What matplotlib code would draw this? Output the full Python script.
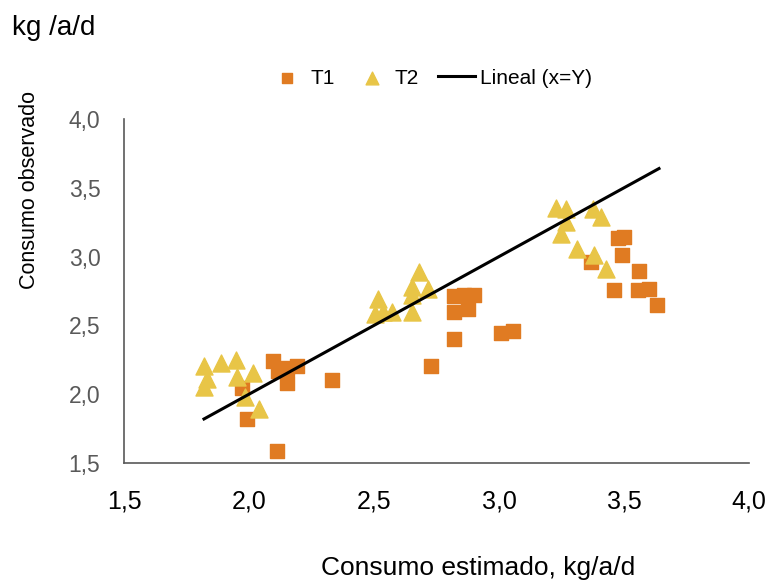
import matplotlib
matplotlib.use("Agg")
import matplotlib.pyplot as plt
from matplotlib.ticker import FuncFormatter

plt.rcParams['font.family'] = ['Liberation Sans Narrow', 'Liberation Sans', 'DejaVu Sans']

# T1 (cuadrados)
t1_x = [2.097, 2.117, 2.153, 2.193, 2.153, 1.974, 1.994, 2.113, 2.332,
        2.822, 2.861, 2.901, 2.822, 2.877, 2.822, 2.730, 3.009, 3.056,
        3.475, 3.498, 3.490, 3.367, 3.558, 3.459, 3.554, 3.598, 3.630]
t1_y = [2.241, 2.169, 2.190, 2.205, 2.081, 2.045, 1.820, 1.587, 2.100,
        2.714, 2.721, 2.721, 2.597, 2.619, 2.401, 2.205, 2.445, 2.459,
        3.135, 3.142, 3.012, 2.961, 2.895, 2.757, 2.757, 2.765, 2.648]

# T2 (triangulos)
t2_x = [1.822, 1.890, 1.950, 1.834, 1.822, 1.954, 2.018, 1.986, 2.041,
        2.515, 2.503, 2.535, 2.571, 2.682, 2.654, 2.654, 2.718, 2.654,
        3.228, 3.268, 3.375, 3.407, 3.268, 3.248, 3.311, 3.379, 3.427]
t2_y = [2.205, 2.227, 2.249, 2.110, 2.052, 2.125, 2.154, 1.980, 1.892,
        2.692, 2.583, 2.597, 2.597, 2.888, 2.779, 2.721, 2.765, 2.597,
        3.353, 3.346, 3.346, 3.288, 3.251, 3.164, 3.055, 3.012, 2.910]

# linea x = y
line_x = [1.82, 3.64]
line_y = [1.82, 3.64]

ticks = [1.5, 2.0, 2.5, 3.0, 3.5, 4.0]

fig = plt.figure(figsize=(7.66, 5.86), dpi=100)
ax = fig.add_axes([124 / 766, 1 - 463 / 586, (749 - 124) / 766, (463 - 119) / 586])

ax.scatter(t1_x, t1_y, marker='s', s=105, color='#E07B22', label='T1', zorder=3)
ax.scatter(t2_x, t2_y, marker='^', s=150, color='#E8C547', label='T2', zorder=3)
ax.plot(line_x, line_y, color='black', lw=2.2, label='Lineal (x=Y)', zorder=4)

ax.set_xlim(1.5, 4.0)
ax.set_ylim(1.5, 4.0)
ax.set_xticks(ticks)
ax.set_yticks(ticks)
comma = FuncFormatter(lambda v, p: f"{v:.1f}".replace('.', ','))
ax.xaxis.set_major_formatter(comma)
ax.yaxis.set_major_formatter(comma)
ax.tick_params(length=0)
ax.tick_params(axis='x', pad=19, labelsize=18, colors='black')
ax.tick_params(axis='y', pad=17, labelsize=16.5, labelcolor='#595959')

for s in ['top', 'right']:
    ax.spines[s].set_visible(False)
for s in ['left', 'bottom']:
    ax.spines[s].set_color('#595959')
    ax.spines[s].set_linewidth(1.2)

fig.text(12 / 766, 1 - 28 / 586, 'kg /a/d', fontsize=20, va='center', ha='left')
fig.text(30 / 766, 1 - 190 / 586, 'Consumo observado', fontsize=15.5, rotation=90,
         va='center', ha='center')
fig.text(478 / 766, 1 - 568 / 586, 'Consumo estimado, kg/a/d', fontsize=19,
         va='center', ha='center')

fig.legend(loc='center', bbox_to_anchor=(430 / 766, 1 - 78 / 586), ncol=3, frameon=False,
           fontsize=15, handlelength=1.8, handletextpad=0.2, columnspacing=0.9,
           markerscale=0.75)

fig.savefig('out.png', dpi=100)
